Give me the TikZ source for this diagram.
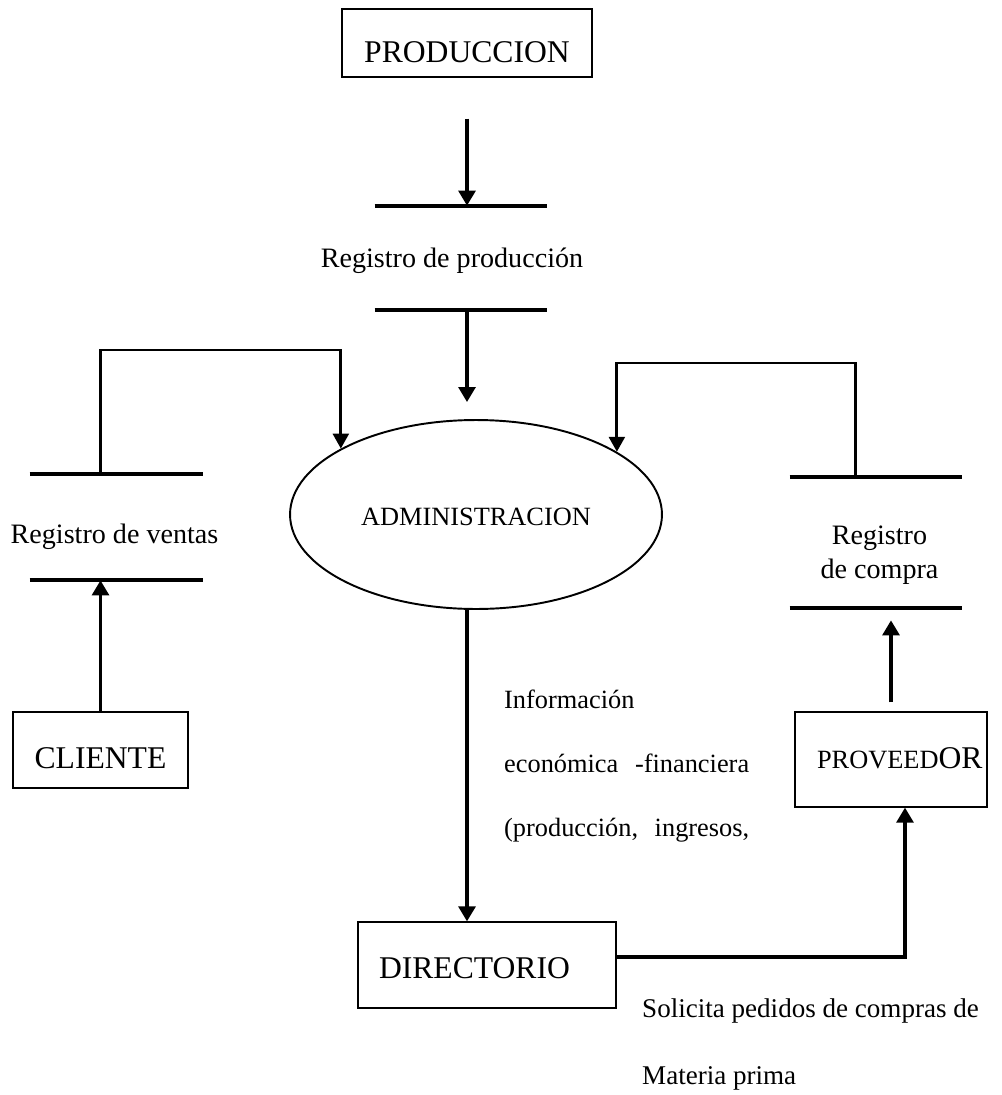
\documentclass[tikz,border=0pt]{standalone}
\usepackage{fontspec}
\setmainfont{Liberation Serif}
\usetikzlibrary{arrows.meta,shapes.geometric}

\begin{document}
\begin{tikzpicture}[
    x=0.02cm, y=-0.02cm,
    caja/.style={draw, rectangle, line width=0.7pt, inner sep=0pt},
    almacen/.style={rectangle, inner sep=0pt},
    barra/.style={line width=2.3pt},
    flujo/.style={line width=2pt, -{Triangle[length=8.5pt,width=9.5pt]}},
    lazo/.style={line width=1.7pt, -{Triangle[length=8.5pt,width=9pt]}},
    rotulo/.style={anchor=base, font=\fontsize{16}{19.3}\selectfont}
    ]

    \useasboundingbox (0,0) rectangle (1001,1095);

    \node[caja, minimum width=5cm, text height=1.08cm, text depth=0.28cm,
        font=\fontsize{18}{21}\selectfont] (prod) at (467,43) {PRODUCCION};
    \node[caja, minimum width=3.5cm, text height=1.12cm, text depth=0.4cm,
        font=\fontsize{18}{21}\selectfont] (cli) at (100.5,750) {CLIENTE};
    \node[caja, text height=1.12cm, text depth=0.78cm] (prv) at (891,759.5)
        {\makebox[3.84cm][l]{\hspace{0.44cm}\fontsize{15}{18}\selectfont PROVEED\fontsize{18}{21}\selectfont OR}};
    \node[caja, text height=1.12cm, text depth=0.6cm,
        font=\fontsize{18}{21}\selectfont] (dir) at (487,965)
        {\makebox[5.16cm][l]{\hspace{0.42cm}DIRECTORIO}};
    \node[draw, ellipse, line width=1.1pt, inner sep=0pt, minimum width=7.44cm,
        minimum height=3.78cm, text height=0.42cm, text depth=0cm,
        font=\fontsize{15}{18}\selectfont] (adm) at (476,514.5) {ADMINISTRACION};

    \node[almacen, minimum width=3.44cm, minimum height=2.08cm] (rp) at (461,258) {};
    \node[almacen, minimum width=3.46cm, minimum height=2.12cm] (rv) at (116.5,527) {};
    \node[almacen, minimum width=3.44cm, minimum height=2.62cm] (rc) at (876,542.5) {};
    \foreach \s in {rp,rv,rc}
        \draw[barra] (\s.north west) -- (\s.north east) (\s.south west) -- (\s.south east);

    \node[rotulo] (lrp) at (452,267) {Registro de producción};
    \node[rotulo] (lrv) at (114.5,543) {Registro de ventas};
    \node[rotulo, align=center] (lrc) at (879.5,578) {Registro\\de compra};

    \node[anchor=base west, align=left, font=\fontsize{15}{36.4}\selectfont] (info) at (498,836)
        {Información\\\makebox[4.9cm][s]{económica -financiera}\\\makebox[4.9cm][s]{(producción, ingresos,}};
    \node[anchor=base west, align=left, font=\fontsize{15.4}{38.1}\selectfont] (ped) at (636,1084)
        {Solicita pedidos de compras de\\Materia prima};

    \coordinate (ti) at (0,350);
    \coordinate (td) at (855,363);

    \draw[flujo, shorten <=0.82cm] (prod.south) -- (prod.south |- rp.north);
    \draw[flujo, shorten >=0.34cm] (prod.south |- rp.south) -- (prod.south |- adm.north);
    \draw[lazo] (cli.north |- rv.north) -- (cli.north |- ti) -| (adm.154);
    \draw[lazo] (td |- rc.north) -- (td) -| (adm.24);
    \draw[flujo] (cli.north) -- (cli.north |- rv.south);
    \draw[flujo, shorten <=0.18cm, shorten >=0.24cm] (prv.north) -- (prv.north |- rc.south);
    \draw[flujo] (prod.south |- adm.south) -- (prod.south |- dir.north);
    \draw[flujo] ([yshift=0.16cm]dir.east) -| ([xshift=0.28cm]prv.south);

\end{tikzpicture}
\end{document}
